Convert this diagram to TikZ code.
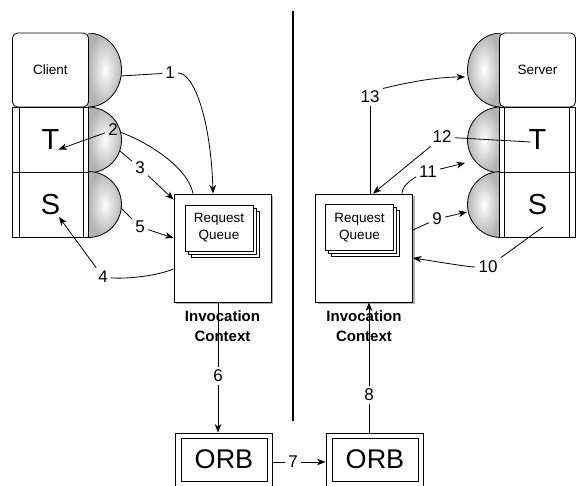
\documentclass[tikz,border=0pt]{standalone}
\usepackage{fontspec}
\setmainfont{Liberation Sans}
\usetikzlibrary{arrows.meta,shadows}

\tikzset{
	unitbox/.style={draw,fill=white,minimum width=76pt,minimum height=65pt,inner sep=0pt,font=\fontsize{29}{30}\selectfont},
	endbox/.style={unitbox,rounded corners=5pt,minimum height=74pt,font=\fontsize{13.5}{16}\selectfont},
	queuebox/.style={draw,fill=white,minimum width=97pt,minimum height=108pt,inner sep=0pt,
		drop shadow={shadow xshift=2pt,shadow yshift=-2pt,opacity=0.3,fill=black}},
	cardbox/.style={draw,fill=white,minimum width=68pt,minimum height=46pt,inner sep=0pt,align=center,font=\fontsize{13.5}{17}\selectfont},
	ctxlabel/.style={align=center,font=\bfseries\fontsize{15}{20}\selectfont},
	orbout/.style={draw,minimum width=97pt,minimum height=62pt,inner sep=0pt},
	orbin/.style={draw,minimum width=86pt,minimum height=43pt,inner sep=0pt,font=\fontsize{27}{28}\selectfont},
	numlbl/.style={inner sep=3pt,font=\fontsize{17}{20}\selectfont},
	arr/.style={-{Stealth[length=8.5pt,width=6.5pt,inset=2.5pt]}}
}

\begin{document}
\begin{tikzpicture}[x=1pt,y=-1pt,line width=0.8pt]
		\useasboundingbox (0,0) rectangle (576,485);
		% half-discs
		\foreach \cx/\cy/\ry/\d in {88/70/37/1,88/140/33/1,88/204.5/33/1,501/70/37/-1,501/140/33/-1,501/204.5/33/-1}{
			\begin{scope}
				\clip (\cx,\cy-\ry) rectangle ({\cx+\d*35},\cy+\ry);
				\begin{scope}
					\clip (\cx,\cy) ellipse [x radius=33.5,y radius=\ry];
					\shade[inner color=white,outer color=gray!60] (\cx,\cy-\ry) rectangle ({\cx+\d*34},\cy+\ry);
				\end{scope}
				\draw (\cx,\cy) ellipse [x radius=33.5,y radius=\ry];
			\end{scope}
		}
		%
		\draw [line width=2.5pt] (293,11) -- (293,421);
		%
		% client side
		\node[endbox] (client) at (50.5,70) {Client};
		\node[unitbox] (tL) at (50.5,139.5) {T};
		\node[unitbox] (sL) at (50.5,204.5) {S};
		\draw ([xshift=7pt]tL.north west) -- ([xshift=7pt]tL.south west);
		\draw ([xshift=-6pt]tL.north east) -- ([xshift=-6pt]tL.south east);
		\draw ([xshift=7pt]sL.north west) -- ([xshift=7pt]sL.south west);
		\draw ([xshift=-6pt]sL.north east) -- ([xshift=-6pt]sL.south east);
		%
		% server side
		\node[endbox] (server) at (537.5,70) {Server};
		\node[unitbox] (tR) at (537.5,139.5) {T};
		\node[unitbox] (sR) at (537.5,204.5) {S};
		\draw ([xshift=5pt]tR.north west) -- ([xshift=5pt]tR.south west);
		\draw ([xshift=-7pt]tR.north east) -- ([xshift=-7pt]tR.south east);
		\draw ([xshift=5pt]sR.north west) -- ([xshift=5pt]sR.south west);
		\draw ([xshift=-7pt]sR.north east) -- ([xshift=-7pt]sR.south east);
		%
		% request queues
		\node[queuebox] (qL) at (222.5,248) {};
		\node[cardbox] (cardL3) at (225,234) {};
		\node[cardbox] (cardL2) at (222,231) {};
		\node[cardbox] (cardL) at (219,228) {Request\\Queue};
		\node[ctxlabel] (ctxL) at (222.5,326) {Invocation\\Context};
		\node[queuebox] (qR) at (364,248) {};
		\node[cardbox] (cardR3) at (365.5,233.5) {};
		\node[cardbox] (cardR2) at (362.5,230.5) {};
		\node[cardbox] (cardR) at (359.5,227.5) {Request\\Queue};
		\node[ctxlabel] (ctxR) at (364,326) {Invocation\\Context};
		%
		% orbs
		\node[orbout] (orbLout) at (223.5,464) {};
		\node[orbin] (orbL) at (224,459.5) {ORB};
		\node[orbout] (orbRout) at (374.5,464) {};
		\node[orbin] (orbR) at (375,459.5) {ORB};
		%
		% numbered steps
		\node[numlbl] (n1) at (170,73) {1};
		\node[numlbl] (n2) at (113,130) {2};
		\node[numlbl] (n3) at (140,168) {3};
		\node[numlbl] (n4) at (103,277) {4};
		\node[numlbl] (n5) at (140,227) {5};
		\node[numlbl] (n6) at (218,376) {6};
		\node[numlbl] (n7) at (293,462) {7};
		\node[numlbl] (n8) at (369,395) {8};
		\node[numlbl] (n9) at (437,219) {9};
		\node[numlbl] (n10) at (488,267) {10};
		\node[numlbl] (n11) at (428,172) {11};
		\node[numlbl] (n12) at (442,137) {12};
		\node[numlbl] (n13) at (370,97) {13};
		\coordinate (c1) at (121,76);
		\coordinate (c3) at (120,151);
		\coordinate (c5) at (121,208);
		\coordinate (c9) at (467,212);
		\coordinate (c10) at ([xshift=5.5pt,yshift=-22.5pt]sR.center);
		\coordinate (c11) at (465,163);
		\coordinate (c12) at ([xshift=-7pt,yshift=-2.5pt]tR.center);
		\coordinate (c13) at (465,77);
		%
		\draw (c1) -- (n1);
		\draw[arr] (n1) .. controls +(25,0) and +(-2,-70) .. ([xshift=-9.5pt]qL.north);
		\draw ([xshift=-29.5pt]qL.north) .. controls +(-6,-30) and +(25,8) .. (n2);
		\draw[arr] (n2) -- ([xshift=8pt,yshift=-10pt]tL.center);
		\draw (c3) -- (n3);
		\draw[arr] (n3) -- ([yshift=-6pt]qL.north west);
		\draw ([yshift=-21pt]qL.west) .. controls +(-20,8) and +(20,2) .. (n4);
		\draw[arr] (n4) -- ([xshift=8.5pt,yshift=-12.5pt]sL.center);
		\draw (c5) -- (n5);
		\draw[arr] (n5) -- ([yshift=10pt]qL.west);
		\draw (n6 |- qL.south) -- (n6);
		\draw[arr] (n6) -- (n6 |- orbLout.north);
		\draw (orbLout.east |- n7) -- (n7);
		\draw[arr] (n7) -- (orbRout.west |- n7);
		\draw (n8 |- orbRout.north) -- (n8);
		\draw[arr] (n8) -- (n8 |- qR.south);
		\draw ([yshift=18pt]qR.east) -- (n9);
		\draw[arr] (n9) -- (c9);
		\draw (c10) -- (n10);
		\draw[arr] (n10) .. controls +(-20,0) and +(20,3) .. ([yshift=-10pt]qR.east);
		\draw ([xshift=38pt]qR.north) .. controls +(0,-10) and +(-10,4) .. (n11);
		\draw[arr] (n11) -- (c11);
		\draw (c12) -- (n12);
		\draw[arr] (n12) -- ([xshift=9pt]qR.north);
		\draw ([xshift=6pt]qR.north) -- (n13);
		\draw[arr] (n13) .. controls +(12,-8) and +(-40,0) .. (c13);
	\end{tikzpicture}
\end{document}
